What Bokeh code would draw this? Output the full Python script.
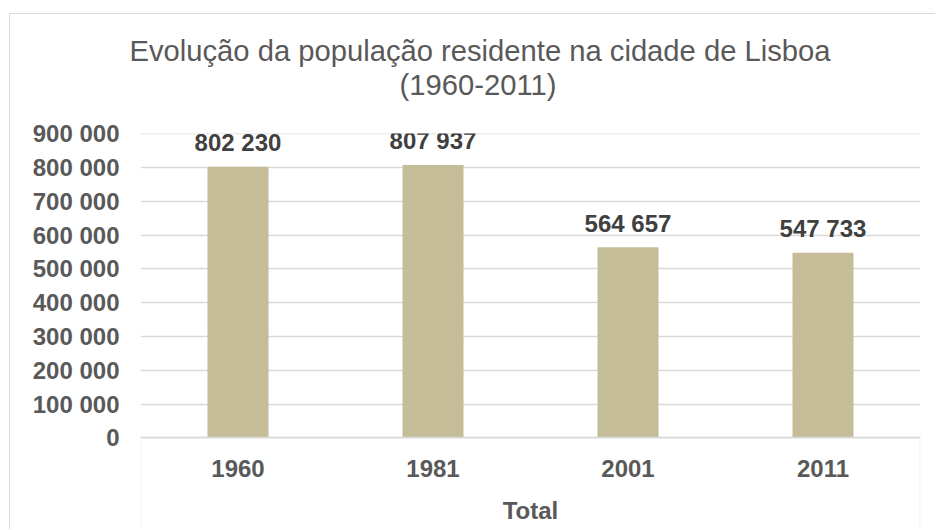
from bokeh.plotting import figure
from bokeh.layouts import column
from bokeh.models import FactorRange, Range1d, FixedTicker, Label, BoxAnnotation, ColumnDataSource
from bokeh.core.properties import value
from bokeh.embed import file_html
from bokeh.resources import INLINE

# ---- data ----
title_lines = ["Evolução da população residente na cidade de Lisboa", "(1960-2011)"]
years = ["1960", "1981", "2001", "2011"]
population = [802230, 807937, 564657, 547733]
value_labels = ["802 230", "807 937", "564 657", "547 733"]
y_ticks = [0, 100000, 200000, 300000, 400000, 500000, 600000, 700000, 800000, 900000]
y_tick_labels = ["0", "100 000", "200 000", "300 000", "400 000", "500 000",
                 "600 000", "700 000", "800 000", "900 000"]
x_group_label = "Total"

FONT = "Liberation Sans"
BAR = "#C4BD97"
GRID = "#D9D9D9"
TXT = "#595959"
LAB = "#404040"
BORDER = "1px solid #D9D9D9"

# ---- header (chart title) ----
head = figure(width=926, height=97, x_range=Range1d(10, 936), y_range=Range1d(0, 97),
              output_backend="svg", toolbar_location=None,
              x_axis_location=None, y_axis_location=None,
              min_border=0, min_border_left=0, min_border_right=0,
              min_border_top=0, min_border_bottom=0,
              frame_align=False,
              margin=(13, 0, 0, 9),
              styles={"border-top": BORDER, "border-left": BORDER})
head.grid.visible = False
head.outline_line_color = None
head.add_layout(Label(x=479.5, y=61, text=title_lines[0],
                      text_font=FONT, text_font_size="29.2px", text_color=TXT,
                      text_align="center", text_baseline="alphabetic"))
head.add_layout(Label(x=477.5, y=27, text=title_lines[1],
                      text_font=FONT, text_font_size="29.2px", text_color=TXT,
                      text_align="center", text_baseline="alphabetic"))

# ---- main chart ----
src = ColumnDataSource(dict(year=years, pop=population, lab=value_labels))

p = figure(width=926, height=419,
           x_range=FactorRange(factors=years, range_padding=0),
           y_range=Range1d(-271200, 901000),
           output_backend="svg", toolbar_location=None,
           min_border_left=130, min_border_right=16,
           min_border_top=23, min_border_bottom=0,
           frame_align=False,
           margin=(0, 0, 0, 9),
           styles={"border-left": BORDER})

p.vbar(x="year", top="pop", width=0.313, source=src, fill_color=BAR, line_color=None)
p.text(x="year", y="pop", text="lab", source=src,
       text_font=value(FONT), text_font_style="bold", text_font_size="24px",
       text_color=LAB, text_align="center", text_baseline="alphabetic", y_offset=-24)

p.outline_line_color = None
p.background_fill_color = "white"
p.border_fill_color = "white"

# grid
p.xgrid.grid_line_color = None
p.ygrid.grid_line_color = GRID
p.ygrid.grid_line_width = 1.3

# y axis
p.yaxis.ticker = FixedTicker(ticks=y_ticks)
p.yaxis.major_label_overrides = {t: l for t, l in zip(y_ticks, y_tick_labels)}
p.yaxis.axis_line_color = None
p.yaxis.major_tick_line_color = None
p.yaxis.minor_tick_line_color = None
p.yaxis.major_tick_out = 0
p.yaxis.major_tick_in = 0
p.yaxis.major_label_standoff = 21
p.yaxis.major_label_text_font = FONT
p.yaxis.major_label_text_font_style = "bold"
p.yaxis.major_label_text_font_size = "24px"
p.yaxis.major_label_text_color = TXT

# x axis (drawn at value 0, inside the plot so the category box can be shown)
p.xaxis.fixed_location = 0
p.xaxis.axis_line_color = GRID
p.xaxis.axis_line_width = 1.3
p.xaxis.major_tick_line_color = None
p.xaxis.minor_tick_line_color = None
p.xaxis.major_tick_out = 0
p.xaxis.major_tick_in = 0
p.xaxis.major_label_standoff = 22
p.xaxis.major_label_text_font = FONT
p.xaxis.major_label_text_font_style = "bold"
p.xaxis.major_label_text_font_size = "24px"
p.xaxis.major_label_text_color = TXT
p.xaxis.axis_label = x_group_label
p.xaxis.axis_label_standoff = 17
p.xaxis.axis_label_text_font = FONT
p.xaxis.axis_label_text_font_style = "bold"
p.xaxis.axis_label_text_font_size = "24px"
p.xaxis.axis_label_text_color = TXT

# box framing the category axis
p.add_layout(BoxAnnotation(left=0.002, right=3.998, top=0, bottom=-400000,
                           fill_color=None, line_color=GRID, line_width=1.3, level="underlay"))

layout = column(head, p, spacing=0)
open("out.html", "w").write(file_html(layout, INLINE))
